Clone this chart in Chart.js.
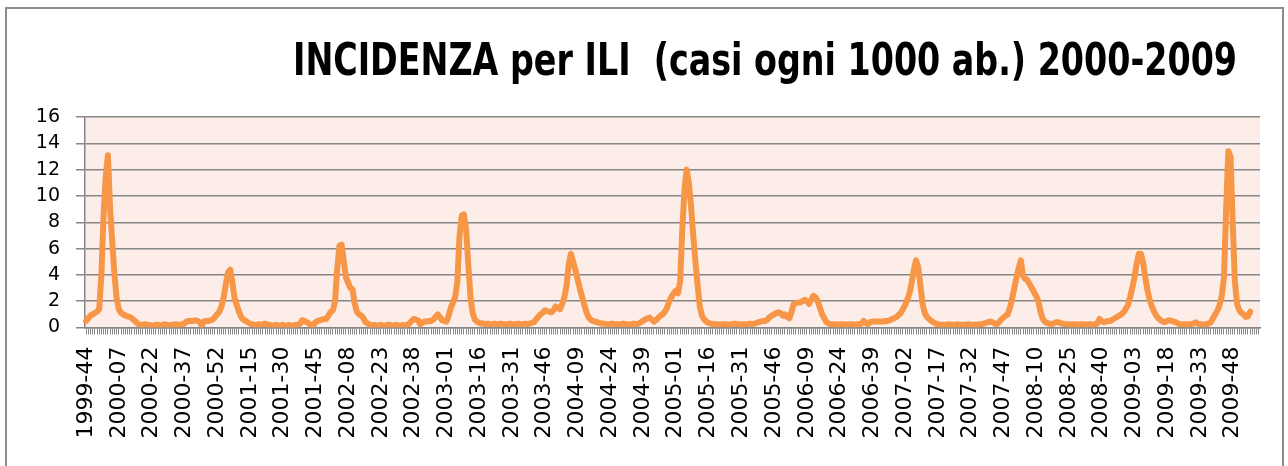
<!DOCTYPE html>
<html>
<head>
<meta charset="utf-8">
<script src="https://cdn.jsdelivr.net/npm/chart.js@4.4.1/dist/chart.umd.min.js"></script>
<style>
    html, body { margin: 0; padding: 0; background: #fff; overflow: hidden; }
    #wrap { position: relative; width: 1288px; height: 466px; }
    #frame {
        position: absolute; left: 5px; top: 7px; width: 1279px; height: 480px;
        border: 2px solid #8c8c8c; box-sizing: border-box; pointer-events: none;
    }
    canvas { position: absolute; left: 0; top: 0; }
</style>
</head>
<body>
<div id="wrap">
    <canvas id="iliChart" width="1288" height="466"></canvas>
    <div id="frame"></div>
</div>
<script>
// Week axis: 1999-44 .. 2010-07
const startYear = 1999;
const startWeek = 44;
const weeksPerYear = { 1999: 52, 2000: 52, 2001: 52, 2002: 52, 2003: 52, 2004: 53,
                       2005: 52, 2006: 52, 2007: 52, 2008: 52, 2009: 53, 2010: 52 };
const totalWeeks = 538;
const labelEvery = 15;

// Y axis ticks
const yTicks = [0, 2, 4, 6, 8, 10, 12, 14, 16];

// Incidence (cases per 1000) by calendar year
const ili1999 = [0.5, 0.7, 0.9, 1.0, 1.1, 1.2, 1.4, 4.0, 8.5];
const ili2000 = [11.5, 13.1, 9.0, 6.5, 4.0, 2.2, 1.4, 1.1, 1.0, 0.9, 0.85, 0.8, 0.7, 0.55, 0.4, 0.25,
                 0.2, 0.2, 0.25, 0.2, 0.2, 0.15, 0.15, 0.2, 0.2, 0.15, 0.2, 0.25, 0.2, 0.15, 0.2, 0.2, 0.25, 0.2, 0.2, 0.25, 0.3,
                 0.45, 0.5, 0.5, 0.5, 0.55, 0.5, 0.4, 0.15, 0.45, 0.5, 0.5, 0.55, 0.6, 0.8, 1.0];
const ili2001 = [1.2, 1.6, 2.3, 3.3, 4.2, 4.4, 3.4, 2.2, 1.7, 1.2, 0.8, 0.6, 0.5, 0.4, 0.3, 0.25,
                 0.2, 0.2, 0.25, 0.2, 0.25, 0.3, 0.2, 0.2, 0.15, 0.15, 0.2, 0.15, 0.15, 0.2, 0.15, 0.15, 0.2, 0.15, 0.15, 0.2, 0.2, 0.3,
                 0.55, 0.5, 0.4, 0.3, 0.2, 0.15, 0.4, 0.5, 0.55, 0.6, 0.65, 0.65, 0.9, 1.2];
const ili2002 = [1.3, 2.0, 4.5, 6.2, 6.3, 5.0, 3.8, 3.4, 3.0, 2.9, 1.8, 1.2, 1.0, 0.9, 0.7, 0.4, 0.3, 0.2,
                 0.15, 0.2, 0.15, 0.15, 0.2, 0.15, 0.15, 0.2, 0.2, 0.15, 0.15, 0.2, 0.15, 0.15, 0.2, 0.15, 0.2,
                 0.3, 0.5, 0.65, 0.6, 0.55, 0.25, 0.35, 0.45, 0.45, 0.5, 0.5, 0.6, 0.8, 1.0, 0.8, 0.55, 0.5];
const ili2003 = [0.45, 0.9, 1.5, 1.9, 2.3, 3.5, 7.0, 8.5, 8.6, 7.5, 4.8, 2.3, 1.1, 0.6, 0.45, 0.35, 0.3,
                 0.3, 0.25, 0.3, 0.25, 0.25, 0.3, 0.25, 0.25, 0.3, 0.25, 0.25, 0.25, 0.3, 0.25, 0.25, 0.25, 0.3, 0.25, 0.25, 0.3, 0.25, 0.3, 0.35,
                 0.4, 0.6, 0.8, 1.0, 1.1, 1.3, 1.25, 1.2, 1.15, 1.3, 1.6, 1.5];
const ili2004 = [1.4, 1.8, 2.3, 3.2, 4.8, 5.6, 5.0, 4.4, 3.7, 3.0, 2.4, 1.8, 1.2, 0.8, 0.6, 0.5, 0.45, 0.4, 0.35, 0.3,
                 0.3, 0.25, 0.25, 0.25, 0.3, 0.25, 0.25, 0.25, 0.25, 0.3, 0.25, 0.25, 0.25, 0.25, 0.3, 0.25, 0.3,
                 0.4, 0.5, 0.6, 0.7, 0.75, 0.6, 0.45, 0.55, 0.75, 0.9, 1.0, 1.2, 1.5, 2.0, 2.3, 2.6];
const ili2005 = [2.8, 2.6, 3.5, 7.5, 10.5, 12.0, 11.0, 9.2, 7.0, 5.0, 3.2, 1.6, 0.9, 0.6, 0.45, 0.35, 0.3,
                 0.25, 0.25, 0.25, 0.2, 0.25, 0.25, 0.25, 0.2, 0.25, 0.25, 0.3, 0.25, 0.25, 0.2, 0.25, 0.25, 0.25, 0.3, 0.25, 0.3,
                 0.35, 0.4, 0.45, 0.5, 0.5, 0.6, 0.8, 0.9, 1.0, 1.1, 1.15, 1.1, 0.9, 1.0, 0.8];
const ili2006 = [0.7, 1.2, 1.8, 1.85, 1.9, 1.9, 2.0, 2.1, 2.0, 1.8, 2.1, 2.4, 2.3, 2.0, 1.5, 1.0, 0.7, 0.4, 0.3,
                 0.25, 0.25, 0.25, 0.2, 0.25, 0.25, 0.25, 0.2, 0.25, 0.25, 0.25, 0.2, 0.25, 0.25, 0.3,
                 0.5, 0.35, 0.25, 0.4, 0.45, 0.45, 0.45, 0.45, 0.45, 0.45, 0.5, 0.5, 0.55, 0.65, 0.7, 0.8, 0.95, 1.1];
const ili2007 = [1.4, 1.7, 2.1, 2.6, 3.4, 4.4, 5.1, 4.6, 3.2, 1.8, 1.1, 0.8, 0.65, 0.5, 0.4, 0.3,
                 0.25, 0.2, 0.2, 0.2, 0.2, 0.25, 0.2, 0.2, 0.2, 0.25, 0.2, 0.2, 0.2, 0.2, 0.25, 0.2, 0.2, 0.2, 0.2, 0.25, 0.25, 0.3, 0.35,
                 0.4, 0.45, 0.4, 0.3, 0.25, 0.4, 0.6, 0.75, 0.9, 1.0, 1.5, 2.2, 3.0];
const ili2008 = [3.8, 4.5, 5.1, 3.9, 3.7, 3.6, 3.3, 3.0, 2.7, 2.4, 2.0, 1.2, 0.65, 0.45, 0.35, 0.3, 0.25,
                 0.3, 0.4, 0.4, 0.35, 0.3, 0.25, 0.25, 0.25, 0.2, 0.25, 0.25, 0.2, 0.25, 0.25, 0.25, 0.2, 0.25, 0.25, 0.2, 0.25,
                 0.3, 0.65, 0.5, 0.4, 0.45, 0.5, 0.5, 0.6, 0.7, 0.8, 0.9, 1.0, 1.15, 1.4, 1.7];
const ili2009 = [2.3, 3.0, 3.8, 4.8, 5.6, 5.6, 4.9, 3.8, 2.8, 2.1, 1.6, 1.2, 0.9, 0.7, 0.55, 0.45, 0.4, 0.5, 0.55, 0.5, 0.45, 0.4, 0.3,
                 0.25, 0.25, 0.25, 0.2, 0.25, 0.25, 0.3, 0.4, 0.3, 0.25, 0.25, 0.2, 0.25, 0.3,
                 0.4, 0.7, 1.0, 1.3, 1.7, 2.4, 3.8, 9.0, 13.4, 13.0, 8.0, 3.5, 1.8, 1.3, 1.1, 1.0];
const ili2010 = [0.8, 0.85, 1.2];

function buildWeekLabels() {
    const labels = [];
    let year = startYear;
    let week = startWeek;
    for (let i = 0; i < totalWeeks; i++) {
        labels.push(year + '-' + String(week).padStart(2, '0'));
        week++;
        if (week > weeksPerYear[year]) {
            week = 1;
            year++;
        }
    }
    return labels;
}

const weekLabels = buildWeekLabels();
const iliValues = [].concat(ili1999, ili2000, ili2001, ili2002, ili2003, ili2004,
                            ili2005, ili2006, ili2007, ili2008, ili2009, ili2010);
while (iliValues.length < totalWeeks) iliValues.push(null);

// pink plot background
const plotBackground = {
    id: 'plotBackground',
    beforeDraw(chart) {
        const { ctx, chartArea } = chart;
        ctx.save();
        ctx.fillStyle = '#fcede8';
        ctx.fillRect(chartArea.left, chartArea.top, chartArea.right - chartArea.left, chartArea.bottom - chartArea.top);
        ctx.restore();
    }
};

// y tick labels, right aligned left of the tick marks
const yLabels = {
    id: 'yLabels',
    afterDraw(chart, args, opts) {
        const { ctx } = chart;
        const y = chart.scales.y;
        ctx.save();
        ctx.font = opts.font;
        ctx.fillStyle = '#000';
        ctx.textAlign = 'right';
        ctx.textBaseline = 'middle';
        yTicks.forEach(v => ctx.fillText(String(v), opts.right, y.getPixelForValue(v)));
        ctx.restore();
    }
};

// title, right aligned and squeezed to the width it has in the original
const chartTitle = {
    id: 'chartTitle',
    afterDraw(chart, args, opts) {
        const ctx = chart.ctx;
        ctx.save();
        ctx.font = opts.font;
        const w = ctx.measureText(opts.text).width;
        const sx = Math.min(1, opts.width / w);
        ctx.translate(opts.right, opts.baseline);
        ctx.scale(sx, 1);
        ctx.fillStyle = '#000';
        ctx.textAlign = 'right';
        ctx.textBaseline = 'alphabetic';
        ctx.fillText(opts.text, 0, 0);
        ctx.restore();
    }
};

new Chart(document.getElementById('iliChart'), {
    type: 'line',
    data: {
        labels: weekLabels,
        datasets: [{
            label: 'ILI',
            data: iliValues,
            borderColor: '#f79646',
            borderWidth: 6,
            borderJoinStyle: 'round',
            borderCapStyle: 'round',
            pointRadius: 0,
            tension: 0,
            fill: false
        }]
    },
    options: {
        responsive: false,
        animation: false,
        layout: { padding: { top: 117, right: 28, left: 0, bottom: 0 } },
        plugins: {
            legend: { display: false },
            tooltip: { enabled: false },
            yLabels: {
                font: '19px "DejaVu Sans", sans-serif',
                right: 60
            },
            chartTitle: {
                text: 'INCIDENZA per ILI  (casi ogni 1000 ab.) 2000-2009',
                font: 'bold 45px "DejaVu Sans Condensed", "DejaVu Sans", sans-serif',
                right: 1237,
                baseline: 75,
                width: 944
            }
        },
        scales: {
            x: {
                offset: true,
                border: { color: '#868686', width: 1.5 },
                grid: { drawOnChartArea: false, drawTicks: true, tickLength: 7, color: '#8a8a8a', lineWidth: 1 },
                ticks: {
                    autoSkip: false,
                    minRotation: 90,
                    maxRotation: 90,
                    padding: 12,
                    color: '#000',
                    font: { family: 'DejaVu Sans', size: 22 },
                    callback: function(value, index) {
                        return index % labelEvery === 0 ? weekLabels[index] : '';
                    }
                },
                afterFit: function(scale) {
                    scale.height = 466 - 327.5;
                    scale.paddingLeft = 0;
                    scale.paddingRight = 0;
                }
            },
            y: {
                min: 0,
                max: 16,
                border: { color: '#868686', width: 1.5 },
                grid: { color: '#868686', lineWidth: 1.5, tickLength: 9 },
                afterBuildTicks: function(scale) { scale.ticks = yTicks.map(v => ({ value: v })); },
                ticks: { display: false },
                afterFit: function(scale) {
                    scale.width = 85;
                    scale.paddingTop = 0;
                    scale.paddingBottom = 0;
                }
            }
        }
    },
    plugins: [plotBackground, yLabels, chartTitle]
});
</script>
</body>
</html>
